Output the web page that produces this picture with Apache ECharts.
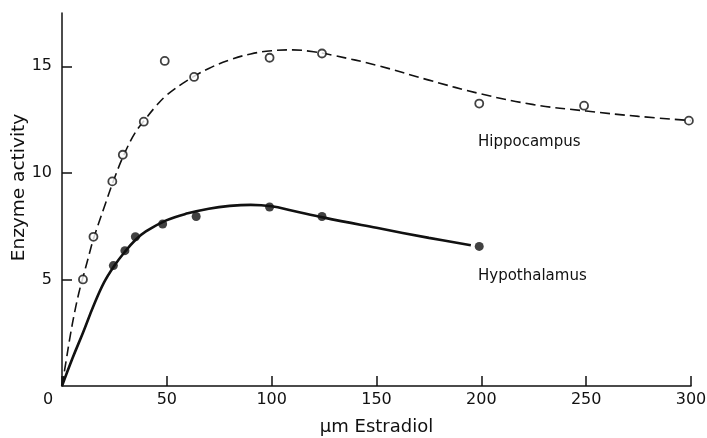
<!DOCTYPE html>
<html>
<head>
<meta charset="utf-8">
<script src="https://cdn.jsdelivr.net/npm/echarts@6/dist/echarts.min.js"></script>
<style>
html,body{margin:0;padding:0;background:#fff;}
#chart{width:707px;height:438px;}
</style>
</head>
<body>
<div id="chart"></div>
<script>
// Measured data points (x: µM estradiol, y: enzyme activity)
var hippoPoints = [[10,5.0],[15,7.0],[24,9.6],[29,10.85],[39,12.4],[49,15.25],[63,14.5],[99,15.4],[124,15.6],[199,13.25],[249,13.15],[299,12.45]];
var hypoPoints = [[24.5,5.65],[30,6.35],[35,7.0],[48,7.6],[64,7.95],[99,8.4],[124,7.95],[199,6.55]];
// Hand-drawn fitted curves
var hippoCurve = [[0,0],[2,1.2],[4,2.4],[6,3.45],[8,4.35],[10,5.1],[12.5,6.0],[15,6.9],[20,8.35],[25,9.75],[30,10.95],[35,11.9],[40,12.55],[45,13.15],[50,13.65],[60,14.35],[70,14.9],[80,15.3],[90,15.58],[100,15.73],[110,15.77],[120,15.68],[130,15.5],[150,15.05],[175,14.35],[200,13.7],[225,13.2],[250,12.9],[275,12.65],[300,12.45]];
var hypoCurve = [[0,0],[5,1.3],[10,2.5],[15,3.75],[20,4.85],[25,5.65],[30,6.3],[35,6.85],[40,7.25],[50,7.78],[60,8.1],[70,8.32],[80,8.45],[90,8.5],[100,8.43],[110,8.22],[125,7.9],[150,7.42],[175,6.95],[195,6.6]];
var seriesNames = ['Hippocampus','Hypothalamus'];
var labelAnchors = [[198.4,11.43],[198.4,5.14]];
var xTicks = {min:0, max:300, interval:50};
var yTicks = {min:0, max:17.5, interval:5};
var xName = 'µm Estradiol';
var yName = 'Enzyme activity';

var FONT = 'DejaVu Sans';
var chart = echarts.init(document.getElementById('chart'), null, {renderer:'canvas'});
var option = {
  animation:false,
  backgroundColor:'#ffffff',
  grid:{left:62, right:16, top:13, bottom:52, containLabel:false, outerBoundsMode:'none'},
  xAxis:{
    type:'value', min:xTicks.min, max:xTicks.max, interval:xTicks.interval,
    name:xName, nameLocation:'middle', nameGap:32, nameMoveOverlap:false,
    nameTextStyle:{fontFamily:FONT, fontSize:18, color:'#111'},
    axisLine:{show:true, onZero:false, lineStyle:{color:'#111', width:1.5}},
    axisTick:{show:true, inside:true, length:10, lineStyle:{color:'#111', width:1.5}},
    splitLine:{show:false},
    axisLabel:{fontFamily:FONT, fontSize:16, color:'#111', margin:6, showMinLabel:true,
      formatter:function(v){ return v===0 ? '{o|0}' : String(v); },
      rich:{o:{fontFamily:FONT, fontSize:16, color:'#111', padding:[0,28,0,0]}}}
  },
  yAxis:{
    type:'value', min:yTicks.min, max:yTicks.max, interval:yTicks.interval,
    name:yName, nameLocation:'middle', nameGap:33, nameRotate:90, nameMoveOverlap:false,
    nameTextStyle:{fontFamily:FONT, fontSize:18.5, color:'#111', padding:[0,0,0,24]},
    axisLine:{show:true, onZero:false, lineStyle:{color:'#111', width:1.5}},
    axisTick:{show:true, inside:true, length:10, lineStyle:{color:'#111', width:1.5},
      interval:function(i,v){ return Number(v) % 5 === 0 && Number(v) > 0; }},
    splitLine:{show:false},
    axisLabel:{fontFamily:FONT, fontSize:16, color:'#111', margin:10, showMinLabel:false, showMaxLabel:false,
      formatter:function(v){ return (v>0 && v%5===0) ? String(v) : ''; }}
  },
  series:[
    {
      name:seriesNames[0]+' fit', type:'line', data:hippoCurve, smooth:0.4, symbol:'none',
      lineStyle:{color:'#111', width:1.6, type:[10,5]}, z:2, silent:true,
      markPoint:{symbol:'circle', symbolSize:0, silent:true,
        data:[{coord:labelAnchors[0], label:{show:true, formatter:seriesNames[0], position:'right', distance:0,
          fontFamily:FONT, fontSize:15, color:'#111'}}]}
    },
    {
      name:seriesNames[1]+' fit', type:'line', data:hypoCurve, smooth:0.4, symbol:'none',
      lineStyle:{color:'#111', width:2.6, type:'solid'}, z:2, silent:true,
      markPoint:{symbol:'circle', symbolSize:0, silent:true,
        data:[{coord:labelAnchors[1], label:{show:true, formatter:seriesNames[1], position:'right', distance:0,
          fontFamily:FONT, fontSize:15, color:'#111'}}]}
    },
    {
      name:seriesNames[0], type:'scatter', data:hippoPoints, symbol:'circle', symbolSize:8,
      itemStyle:{color:'#fff', borderColor:'#111', borderWidth:1.8}, z:5
    },
    {
      name:seriesNames[1], type:'scatter', data:hypoPoints, symbol:'circle', symbolSize:9,
      itemStyle:{color:'#111'}, z:5
    }
  ]
};
chart.setOption(option);
</script>
</body>
</html>
